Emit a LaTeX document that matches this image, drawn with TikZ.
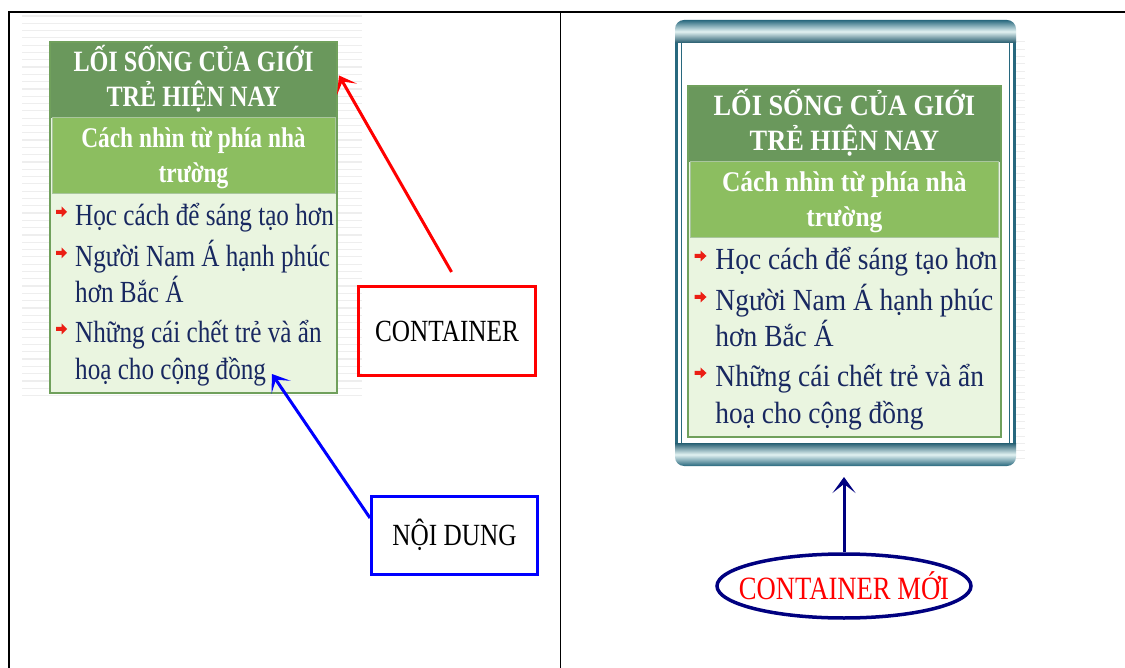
\documentclass[tikz,border=0pt]{standalone}
\usepackage{fontspec}
\setmainfont{Liberation Serif}[FakeStretch=0.82]
\usetikzlibrary{arrows.meta,shapes.geometric}

\definecolor{titlegreen}{RGB}{106,152,92}
\definecolor{subgreen}{RGB}{140,190,96}
\definecolor{bodygreen}{RGB}{234,245,224}
\definecolor{edgegreen}{RGB}{112,160,92}
\definecolor{itemblue}{RGB}{24,40,96}
\definecolor{bulletred}{RGB}{235,30,20}
\definecolor{stripegray}{RGB}{238,238,238}
\definecolor{tealdark}{RGB}{40,104,126}
\definecolor{teallight}{RGB}{226,242,242}
\definecolor{navyline}{RGB}{0,0,128}

\tikzset{
  titletext/.style={text=white, font=\bfseries\fontsize{29.5}{31}\selectfont, anchor=base, inner sep=0pt},
  subtext/.style={text=white, font=\bfseries\fontsize{28.5}{30}\selectfont, anchor=base, inner sep=0pt},
  itemtext/.style={text=itemblue, font=\fontsize{30.7}{32}\selectfont, anchor=base west, inner sep=0pt},
  labelbox/.style={draw, line width=3pt, font=\fontsize{30.8}{32}\selectfont, inner sep=0pt},
  redbullet/.pic={\fill[bulletred] (-5,-2) -- (0.5,-2) -- (0.5,-5.5) -- (6,0) -- (0.5,5.5) -- (0.5,2) -- (-5,2) -- cycle;},
  pointer/.style={line width=3pt, -{Stealth[length=16pt,width=23pt,inset=9pt]}},
}

% The green text panel, drawn with its top-left corner at the scope origin
\newcommand\lifebox{%
  \fill[bodygreen] (0,0) rectangle (287,351);
  \fill[titlegreen] (0,0) rectangle (287,76);
  \fill[subgreen] (2,76) rectangle (285,152);
  \draw[edgegreen!60!white, line width=1pt] (2,76) rectangle (285,152);
  \draw[edgegreen, line width=1.5pt] (0,0) rectangle (287,351);
  \coordinate (headR) at (287,30);
  \node[titletext] (t1) at (143.5,30) {LỐI SỐNG CỦA GIỚI};
  \node[titletext] (t2) at (143.5,65) {TRẺ HIỆN NAY};
  \node[subtext] (s1) at (143.5,106) {Cách nhìn từ phía nhà};
  \node[subtext] (s2) at (143.5,141) {trường};
  \pic at (11,170) {redbullet};
  \node[itemtext] (i1) at (25,184) {Học cách để sáng tạo hơn};
  \pic at (11,211) {redbullet};
  \node[itemtext] (i2) at (25,225) {Người Nam Á hạnh phúc};
  \node[itemtext] (i3) at (25,261) {hơn Bắc Á};
  \pic at (11,287) {redbullet};
  \node[itemtext] (i4) at (25,301) {Những cái chết trẻ và ẩn};
  \node[itemtext] (i5) at (25,338) {hoạ cho cộng đồng};
  \coordinate (tipC) at (222,332);
}

\begin{document}
\begin{tikzpicture}[x=1pt,y=-1pt]
\useasboundingbox (0,0) rectangle (1125,668);
\fill[white] (0,0) rectangle (1125,668);

% table rules
\draw[line width=2.3pt] (8,12) -- (1125,12);
\draw[line width=1.5pt] (9,12) -- (9,668);
\draw[line width=1.2pt] (560.3,12) -- (560.3,668);

% striped backdrop of the left slide
\foreach \k in {0,...,52} \draw[stripegray, line width=1.2pt] (22,16+7.3*\k) -- (362,16+7.3*\k);

% left panel
\begin{scope}[shift={(50,42)}, name prefix=L-]
  \lifebox
\end{scope}

\node[labelbox, draw=red, minimum width=177pt, minimum height=89pt] (cont) at (447,331) {CONTAINER};
\node[labelbox, draw=blue, minimum width=166pt, minimum height=78pt] (noi) at (454.5,535) {NỘI DUNG};

\draw[pointer, red, shorten <=15pt, shorten >=4pt] ([xshift=12pt]cont.north) -- (L-headR);
\draw[pointer, blue] ([yshift=17pt]noi.west) -- (L-tipC);

% right panel: scroll frame
\foreach \k in {0,...,57} \draw[stripegray, line width=1pt] (1016,42+7.3*\k) -- (1025,42+7.3*\k);
\fill[white] (675,40) rectangle (1015,446);
\draw[tealdark, line width=3pt] (676,40) -- (676,446);
\draw[tealdark, line width=3pt] (1014,40) -- (1014,446);
\draw[tealdark, line width=1pt] (681,43) rectangle (1009,443);
\shade[top color=tealdark, bottom color=tealdark!85!black, middle color=teallight, rounded corners=9pt]
  (675,43) -- (675,20) -- (1016,20) -- (1016,43);
\shade[top color=tealdark!90!black, bottom color=tealdark, middle color=teallight, rounded corners=9pt]
  (675,443) -- (675,466) -- (1016,466) -- (1016,443);
\coordinate (scrollbot) at (842,466);

\begin{scope}[shift={(688,86)}, xscale=1.09, transform shape, name prefix=R-]
  \lifebox
\end{scope}

\node[ellipse, draw=navyline, line width=3.5pt, minimum width=254pt, minimum height=64pt, inner sep=0pt,
      label={[text=red, font=\fontsize{32.5}{34}\selectfont, inner sep=0pt]center:CONTAINER MỚI}] (newc) at (844,586) {};
\draw[pointer, navyline, shorten >=11pt] (newc.north) -- (newc.north |- scrollbot);
\end{tikzpicture}
\end{document}
